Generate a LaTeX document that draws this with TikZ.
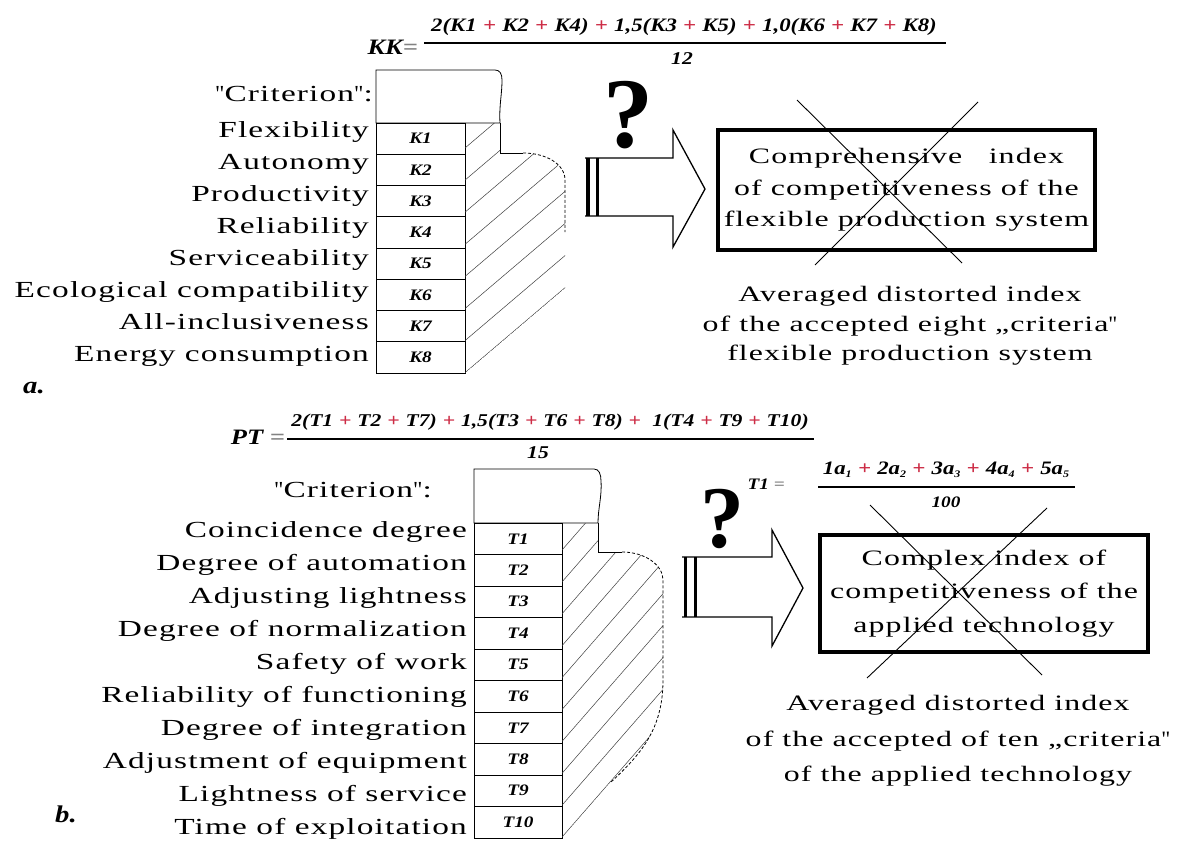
\documentclass[tikz,border=0pt]{standalone}
\usepackage{fontspec}
\setmainfont{Liberation Serif}[FakeStretch=1.45,LetterSpace=5]
\newfontfamily\ffm{Liberation Serif}[FakeStretch=1.2]
\newfontfamily\qfm{Liberation Serif}
\definecolor{plusred}{RGB}{205,45,70}
\definecolor{eqgray}{RGB}{130,130,130}
\newcommand{\rp}{\hspace{0.33em}\textcolor{plusred}{+}\hspace{0.33em}}
\newcommand{\sbx}[1]{\raisebox{-0.35ex}{\fontsize{10}{10}\selectfont #1}}
\newcommand{\dq}{{\qfm\char34}}
\begin{document}
\begin{tikzpicture}[x=1pt,y=-1pt,
 lbl/.style={anchor=base east, inner sep=0pt, font=\fontsize{23}{26}\selectfont},
 cell/.style={draw, line width=0.8pt, minimum height=31.25pt, inner sep=0pt, font=\ffm\bfseries\itshape\fontsize{16}{16}\selectfont},
 frm/.style={inner sep=0pt, font=\ffm\bfseries\itshape\fontsize{18}{18}\selectfont},
 frmbig/.style={inner sep=0pt, font=\ffm\bfseries\itshape\fontsize{22}{22}\selectfont},
 outl/.style={line width=0.8pt},
 curv/.style={line width=0.8pt, densely dashed},
 hatch/.style={line width=0.5pt, black!75},
 arr/.style={line width=1.3pt, line join=miter},
 qm/.style={inner sep=0pt, font=\qfm\bfseries\fontsize{100}{100}\selectfont},
 bigbox/.style={draw, line width=3.5pt, align=center, inner sep=0pt, font=\fontsize{22}{31.5}\selectfont},
 txt/.style={align=center, inner sep=0pt},
 xline/.style={line width=0.9pt},
 tag/.style={anchor=base west, inner sep=0pt, font=\ffm\bfseries\itshape\fontsize{24}{24}\selectfont}]
\path[fill=white] (0,0) rectangle (1190,846);
\useasboundingbox (0,0) rectangle (1190,846);

% ---------------- part a ----------------
\node[frmbig, anchor=east] (KK) at (418,47) {KK\textcolor{eqgray}{=}};
\node[frm, font=\ffm\bfseries\itshape\fontsize{19}{19}\selectfont] (kknum) at (684,27) {2(K1\rp K2\rp K4)\rp 1,5(K3\rp K5)\rp 1,0(K6\rp K7\rp K8)};
\coordinate (kkL) at (424,43); \coordinate (kkR) at (946,43);
\draw[line width=1.2pt] (kkL) -- (kkR);
\node[frm] (kkden) at (682,59) {12};

\draw[outl] (376,123) -- (376,70) -- (495,70) .. controls (500,70) and (502,74) .. (502,80) .. controls (502,95) and (499,105) .. (500,123) -- cycle;
\foreach \i in {1,...,8}
  \node[cell, minimum width=89pt] (K\i) at (420.5,{138.625+31.25*(\i-1)}) {K\i};
\node[lbl] (crita) at (373,101) {\dq Criterion\dq:};
\foreach \t [count=\i] in {Flexibility,Autonomy,Productivity,Reliability,Serviceability,Ecological compatibility,All-inclusiveness,Energy consumption}
  \node[lbl] (la\i) at (369,{137+32.1*(\i-1)}) {\t};

\begin{scope}
\clip (465,123) -- (500,123) -- (500,153) -- (523,153) .. controls (546,153) and (565,164) .. (565,180) -- (565,288) -- (465,373) -- cycle;
\foreach \k in {0,...,7} \draw[hatch] (465,{148+32.1*\k}) -- ++(200,-170);
\end{scope}
\draw[outl] (500,123) -- (500,153) -- (523,153);
\draw[curv] (523,153) .. controls (546,153) and (565,164) .. (565,180) -- (565,232);

\draw[arr] (585,158) -- (673,158) -- (673,130) -- (705,189) -- (673,247) -- (673,216) -- (585,216);
\draw[line width=3.5pt] (588,158) -- (588,216);
\draw[line width=3pt] (597,158) -- (597,216);
\node[qm] (qa) at (628,115) {?};

\node[bigbox, minimum width=377pt, minimum height=120pt] (boxa) at (906.5,190)
  {Comprehensive\hspace{1.2em}index\\of competitiveness of the\\flexible production system};
\coordinate (xa1) at (797,100); \coordinate (xa2) at (962,263);
\coordinate (xa3) at (978,102); \coordinate (xa4) at (815,265);
\draw[xline] (xa1) -- (xa2);
\draw[xline] (xa3) -- (xa4);
\node[txt, font=\fontsize{22}{29.5}\selectfont] (avga) at (910,326)
  {Averaged distorted index\\of the accepted eight „criteria\dq\\flexible production system};
\node[tag] (taga) at (23,393) {a.};

% ---------------- part b ----------------
\node[frmbig, anchor=east] (PT) at (285,437) {PT \textcolor{eqgray}{=}};
\node[frm] (ptnum) at (550,422) {2(T1\rp T2\rp T7)\rp 1,5(T3\rp T6\rp T8)\rp\ 1(T4\rp T9\rp T10)};
\coordinate (ptL) at (287,439); \coordinate (ptR) at (814,439);
\draw[line width=1.2pt] (ptL) -- (ptR);
\node[frm] (ptden) at (538,453) {15};

\draw[outl] (474,523) -- (474,469) -- (594,469) .. controls (599,469) and (601,474) .. (601,481) .. controls (602,497) and (598,508) .. (598,523) -- cycle;
\foreach \i in {1,...,10}
  \node[cell, minimum width=88pt, minimum height=31.5pt] (T\i) at (518,{538.75+31.5*(\i-1)}) {T\i};
\node[lbl] (critb) at (432,497) {\dq Criterion\dq:};
\foreach \t [count=\i] in {Coincidence\hspace{0.4em}degree,Degree of automation,Adjusting lightness,Degree of normalization,Safety of work,Reliability of functioning,Degree of integration,Adjustment of equipment,Lightness of service,Time of exploitation}
  \node[lbl] (lb\i) at (467,{537+33.1*(\i-1)}) {\t};

\begin{scope}
\clip (562,523) -- (598,523) -- (598,552) -- (622,552) .. controls (645,552) and (663,565) .. (663,580) -- (663,680) .. controls (663,730) and (640,755) .. (610,783) -- (562,838) -- cycle;
\foreach \k in {0,...,9} \draw[hatch] (562,{550+31.9*\k}) -- ++(150,-172);
\end{scope}
\draw[outl] (598,523) -- (598,552) -- (622,552);
\draw[curv] (622,552) .. controls (645,552) and (663,565) .. (663,580) -- (663,680) .. controls (663,730) and (640,755) .. (610,783);

\draw[arr] (682,557) -- (772,557) -- (772,530) -- (803,588) -- (772,646) -- (772,617) -- (682,617);
\draw[line width=3pt] (685,557) -- (685,617);
\draw[line width=3pt] (695,557) -- (695,617);
\node[qm, font=\qfm\bfseries\fontsize{88}{88}\selectfont] (qb) at (722,519) {?};

\node[frm, anchor=east, font=\ffm\bfseries\itshape\fontsize{16}{16}\selectfont] (T1f) at (785,484) {T1 \textcolor{eqgray}{=}};
\node[frm, font=\ffm\bfseries\itshape\fontsize{19}{19}\selectfont] (t1num) at (946,470) {1a\sbx{1}\rp 2a\sbx{2}\rp 3a\sbx{3}\rp 4a\sbx{4}\rp 5a\sbx{5}};
\coordinate (t1L) at (818,487); \coordinate (t1R) at (1075,487);
\draw[line width=1.2pt] (t1L) -- (t1R);
\node[frm, font=\ffm\bfseries\itshape\fontsize{16}{16}\selectfont] (t1den) at (946,502) {100};

\node[bigbox, minimum width=328pt, minimum height=117pt, font=\fontsize{22}{33.5}\selectfont] (boxb) at (984,593.5)
  {Complex index of\\competitiveness of the\\applied technology};
\coordinate (xb1) at (870,505); \coordinate (xb2) at (1042,675);
\coordinate (xb3) at (1047,508); \coordinate (xb4) at (867,678);
\draw[xline] (xb1) -- (xb2);
\draw[xline] (xb3) -- (xb4);
\node[txt, font=\fontsize{22}{35.5}\selectfont] (avgb) at (958,741)
  {Averaged distorted index\\of the accepted of ten „criteria\dq\\of the applied technology};
\node[tag] (tagb) at (55,822) {b.};
\end{tikzpicture}
\end{document}
